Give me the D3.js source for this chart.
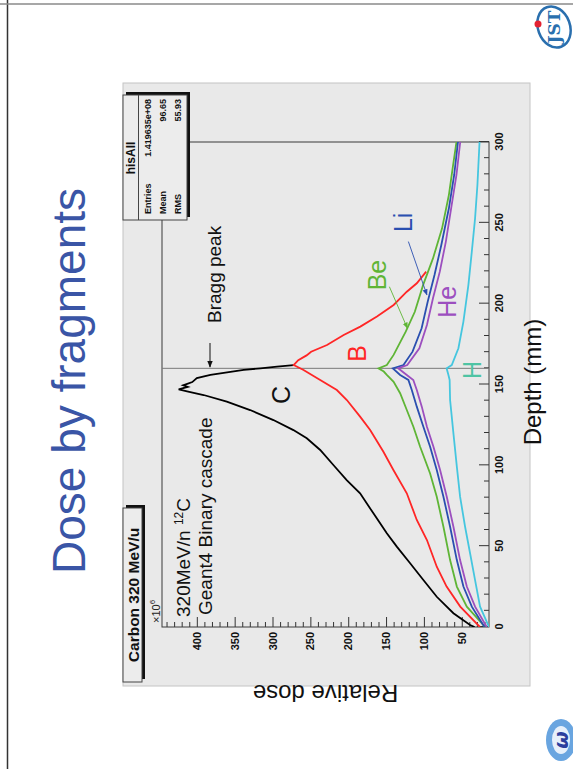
<!DOCTYPE html>
<html>
<head>
<meta charset="utf-8">
<script src="https://cdn.jsdelivr.net/npm/d3@7"></script>
<style>
  body { margin: 0; background: #fff; }
  svg { display: block; }
</style>
</head>
<body>
<script>
// ---- data ----------------------------------------------------------
const depthTicks = [0, 50, 100, 150, 200, 250, 300];
const doseTicks = [50, 100, 150, 200, 250, 300, 350, 400];
const fragments = ["C", "B", "Be", "Li", "He", "H"];

const depthC = [0, 1.2, 8.5, 18.7, 29.1, 39.4, 49.7, 58, 70.3, 82.7, 90.9, 100.2, 109.5, 116.7, 121.8, 128, 134.2, 139.4, 143.5, 145.5, 147, 148.5, 149.5, 151.5, 154, 156, 157.5, 159, 160, 161, 162];
const doseC  = [33, 39, 61, 83, 100.7, 118.2, 135.8, 149, 166.7, 184.3, 202, 219.6, 237, 254.7, 272.4, 298.8, 329.6, 360.4, 391, 410, 424, 412, 418, 406, 400, 382, 360, 338, 316, 294, 272];

const depthB = [0, 12.6, 25, 37.3, 53.8, 66.2, 82.7, 97.1, 108.4, 121.9, 130.1, 140.4, 146.6, 152.8, 159, 162, 165, 168, 170.3, 174.4, 180.6, 185.8, 192, 199.2, 207.4, 212.6, 219.8];
const doseB  = [26, 52, 70, 83, 96, 109.4, 122.6, 140.3, 153.5, 171, 184.3, 201.8, 215, 237, 259, 272, 266, 255, 249, 228, 206, 184, 162, 140, 122.6, 109.4, 97];

const depthBe = [0, 12.6, 25, 41.4, 62, 80.6, 95, 111.5, 123.9, 134.2, 144.6, 151.7, 155.9, 158, 160, 162, 168.3, 182.7, 195, 211.6, 228, 246.6, 267.2, 283.8, 300];
const doseBe  = [19, 43.3, 56.5, 65.4, 74.2, 83, 91.8, 105, 113.9, 122.6, 131.4, 140, 149, 153, 160, 149, 140, 124, 112, 101, 88, 76, 67, 62, 57];

const depthLi = [0, 12.6, 25, 41.4, 62, 80.6, 97.1, 111.5, 123.9, 136.3, 146.6, 152.8, 155.9, 160, 162, 170.3, 184.8, 201.2, 217.7, 236.3, 259, 279.6, 300];
const doseLi  = [20, 36.7, 47.8, 56.5, 65.4, 74.2, 83, 91.8, 100.7, 109.4, 116, 120.5, 131.4, 141, 127, 115, 103, 95, 86, 77, 67, 60, 55];

const depthHe = [0, 12.6, 25, 41.4, 62, 80.6, 97.1, 111.5, 123.9, 136.3, 146.6, 152.8, 155.9, 160, 162, 172.4, 186.8, 203.3, 219.8, 238.4, 259, 279.6, 300];
const doseHe  = [17, 32.4, 43.3, 52.2, 61, 69.8, 78.6, 87.4, 96, 102.8, 109.4, 114, 122.6, 134, 122, 106, 96, 88, 79, 71, 64, 57, 52];

const depthH = [0, 12.6, 29, 45.6, 62, 80.6, 99.2, 119.8, 140.4, 152.8, 155.9, 160, 162, 172.4, 188.9, 211.6, 232.2, 252.8, 273.4, 300];
const doseH  = [14, 25.8, 32.4, 39, 45.6, 52.2, 56.5, 61, 65.4, 66, 67.6, 70, 63.2, 54.4, 47.8, 41.2, 36.7, 32.4, 29.3, 26.5];

const statsLabels = ["Entries", "Mean", "RMS"];
const statsValues = ["1.419635e+08", "96.65", "55.93"];

// ---- page ----------------------------------------------------------
const FONT = "'Liberation Sans', Arial, Helvetica, sans-serif";
const SLIDE_W = 769, SLIDE_H = 573;   // landscape slide, shown turned a quarter turn

const svg = d3.select("body").append("svg")
  .attr("width", 573).attr("height", 769)
  .style("font-family", FONT);
svg.append("rect").attr("width", 573).attr("height", 769).attr("fill", "#fff");

const slide = svg.append("g").attr("transform", `translate(0,${SLIDE_W}) rotate(-90)`);

// slide rules
slide.append("line").attr("x1", 0).attr("x2", SLIDE_W).attr("y1", 7.5).attr("y2", 7.5)
  .attr("stroke", "#333").attr("stroke-width", 1.5);
slide.append("line").attr("x1", 765).attr("x2", 765).attr("y1", 0).attr("y2", SLIDE_H)
  .attr("stroke", "#8a8a8a").attr("stroke-width", 1.5);

// title
slide.append("text").attr("x", 388).attr("y", 85)
  .attr("text-anchor", "middle").attr("font-size", 46).attr("fill", "#3a55a6")
  .text("Dose by fragments");

// canvas panel
slide.append("rect").attr("x", 83).attr("y", 123).attr("width", 603).attr("height", 407)
  .attr("fill", "#e9e9e9").attr("stroke", "#c4c4c4").attr("stroke-width", 1);

// scales
const x = d3.scaleLinear().domain([0, 300]).range([142, 627]);
const y = d3.scaleLinear().domain([14, 446]).range([489, 162]);

// minor ticks
slide.append("g").attr("transform", "translate(0,489)")
  .call(d3.axisBottom(x).tickValues(d3.range(10, 300, 10).filter(v => v % 50)).tickSize(-5).tickFormat(""))
  .call(g => g.select(".domain").remove())
  .call(g => g.selectAll("line").attr("stroke", "#333"));
slide.append("g").attr("transform", "translate(142,0)")
  .call(d3.axisLeft(y).tickValues(d3.range(20, 446, 10).filter(v => v % 50)).tickSize(-5).tickFormat(""))
  .call(g => g.select(".domain").remove())
  .call(g => g.selectAll("line").attr("stroke", "#333"));

// major ticks + labels
slide.append("g").attr("transform", "translate(0,489)")
  .call(d3.axisBottom(x).tickValues(depthTicks).tickSizeInner(-10).tickSizeOuter(0).tickPadding(6).tickFormat(d3.format("d")))
  .call(g => g.select(".domain").remove())
  .call(g => g.selectAll("line").attr("stroke", "#333"))
  .call(g => g.selectAll("text").attr("font-family", FONT).attr("font-size", 11).attr("font-weight", "bold").attr("fill", "#111"));
slide.append("g").attr("transform", "translate(142,0)")
  .call(d3.axisLeft(y).tickValues(doseTicks).tickSizeInner(-10).tickSizeOuter(0).tickPadding(5).tickFormat(d3.format("d")))
  .call(g => g.select(".domain").remove())
  .call(g => g.selectAll("line").attr("stroke", "#333"))
  .call(g => g.selectAll("text").attr("font-family", FONT).attr("font-size", 11).attr("font-weight", "bold").attr("fill", "#111"));

// frame
slide.append("rect").attr("x", 142).attr("y", 162).attr("width", 485).attr("height", 327)
  .attr("fill", "none").attr("stroke", "#3a3a3a").attr("stroke-width", 1);

// exponent
const expo = slide.append("text").attr("x", 146).attr("y", 160).attr("font-size", 11).attr("fill", "#222");
expo.append("tspan").text("×10");
expo.append("tspan").attr("dy", -5).attr("font-size", 8).text("6");

// Bragg line
slide.append("line").attr("x1", x(160)).attr("x2", x(160)).attr("y1", 162).attr("y2", 489)
  .attr("stroke", "#7a7a7a").attr("stroke-width", 1);

// curves
slide.append("clipPath").attr("id", "plotclip").append("rect")
  .attr("x", 142).attr("y", 162).attr("width", 485).attr("height", 327);

const seriesDepth = [depthC, depthB, depthBe, depthLi, depthHe, depthH];
const seriesDose = [doseC, doseB, doseBe, doseLi, doseHe, doseH];
const lineColors = ["#000000", "#ff2626", "#5fb536", "#2a4fb0", "#9c4fbf", "#45c6df"];

const line = d3.line().x(d => x(d[0])).y(d => y(d[1]));
const curves = slide.append("g").attr("clip-path", "url(#plotclip)");
fragments.forEach((f, i) => {
  const pts = seriesDepth[i].map((d, j) => [d, seriesDose[i][j]]);
  curves.append("path").datum(pts).attr("d", line)
    .attr("fill", "none").attr("stroke", lineColors[i]).attr("stroke-width", 1.8)
    .attr("stroke-linejoin", "miter");
});

// fragment labels
const labelColors = ["#111111", "#ff2626", "#5fb536", "#2a4fb0", "#9c4fbf", "#4fc4a4"];
const labelAt = { C: [143.5, 288.6], B: [169.3, 187.8], Be: [217.7, 162.2], Li: [250.3, 127.9], He: [201.2, 69.8], H: [159, 36] };
fragments.forEach((f, i) => {
  slide.append("text").attr("x", x(labelAt[f][0])).attr("y", y(labelAt[f][1]))
    .attr("text-anchor", "middle").attr("dominant-baseline", "central")
    .attr("font-size", 25).attr("fill", labelColors[i]).text(f);
});

// pointer arrows
const defs = slide.append("defs");
function marker(id, color) {
  defs.append("marker").attr("id", id).attr("viewBox", "0 0 10 10").attr("refX", 9).attr("refY", 5)
    .attr("markerWidth", 7).attr("markerHeight", 7).attr("orient", "auto")
    .append("path").attr("d", "M0,1 L10,5 L0,9 z").attr("fill", color);
}
marker("arrBe", "#5fb536");
marker("arrLi", "#2a4fb0");
marker("arrBragg", "#111");
slide.append("line").attr("x1", x(210.5)).attr("y1", y(145.6)).attr("x2", x(184.8)).attr("y2", y(121.8))
  .attr("stroke", "#5fb536").attr("stroke-width", 0.9).attr("marker-end", "url(#arrBe)");
slide.append("line").attr("x1", x(238.4)).attr("y1", y(120.5)).attr("x2", x(205.4)).attr("y2", y(96))
  .attr("stroke", "#2a4fb0").attr("stroke-width", 0.9).attr("marker-end", "url(#arrLi)");

// annotations
slide.append("text").attr("x", 446).attr("y", 221).attr("font-size", 19).attr("fill", "#111").text("Bragg peak");
slide.append("line").attr("x1", 426).attr("y1", 210).attr("x2", 402).attr("y2", 210)
  .attr("stroke", "#111").attr("stroke-width", 1).attr("marker-end", "url(#arrBragg)");

const beam = slide.append("text").attr("x", 152).attr("y", 190).attr("font-size", 19).attr("fill", "#111");
beam.append("tspan").text("320MeV/n ");
beam.append("tspan").attr("dy", -7).attr("font-size", 12).text("12");
beam.append("tspan").attr("dy", 7).text("C");
slide.append("text").attr("x", 154).attr("y", 212).attr("font-size", 19).attr("fill", "#111")
  .text("Geant4 Binary cascade");

// axis titles
slide.append("text").attr("transform", `translate(76,${y(230)}) rotate(-90)`)
  .attr("text-anchor", "middle").attr("dominant-baseline", "central")
  .attr("font-size", 24).attr("fill", "#111").text("Relative dose");
slide.append("text").attr("x", 387).attr("y", 541)
  .attr("text-anchor", "middle").attr("font-size", 24).attr("fill", "#111").text("Depth (mm)");

// title box
function shadowBox(x0, y0, w, h) {
  slide.append("rect").attr("x", x0 + 3).attr("y", y0 + 3).attr("width", w).attr("height", h).attr("fill", "#111");
  slide.append("rect").attr("x", x0).attr("y", y0).attr("width", w).attr("height", h)
    .attr("fill", "#ececec").attr("stroke", "#444").attr("stroke-width", 1);
}
shadowBox(87, 123, 174, 19);
slide.append("text").attr("x", 174).attr("y", 133).attr("text-anchor", "middle").attr("dominant-baseline", "central")
  .attr("font-size", 15.5).attr("font-weight", "bold").attr("fill", "#111").text("Carbon 320 MeV/u");

// stats box
shadowBox(549, 123, 125, 64);
slide.append("line").attr("x1", 549).attr("x2", 674).attr("y1", 138.5).attr("y2", 138.5).attr("stroke", "#444");
slide.append("text").attr("x", 611).attr("y", 131).attr("text-anchor", "middle").attr("dominant-baseline", "central")
  .attr("font-size", 12).attr("font-weight", "bold").attr("fill", "#111").text("hisAll");
statsLabels.forEach((s, i) => {
  const yy = 148 + i * 15;
  slide.append("text").attr("x", 555).attr("y", yy).attr("dominant-baseline", "central")
    .attr("font-size", 9).attr("font-weight", "bold").attr("fill", "#111").text(s);
  slide.append("text").attr("x", 670).attr("y", yy).attr("text-anchor", "end").attr("dominant-baseline", "central")
    .attr("font-size", 9).attr("font-weight", "bold").attr("fill", "#111").text(statsValues[i]);
});

// logos
const jst = slide.append("g").attr("transform", "translate(742,554) rotate(-20)");
jst.append("ellipse").attr("rx", 21).attr("ry", 16).attr("fill", "none").attr("stroke", "#2a6fae").attr("stroke-width", 2.5);
jst.append("text").attr("text-anchor", "middle").attr("dominant-baseline", "central").attr("transform", "rotate(20)")
  .attr("font-size", 17).attr("font-weight", "bold").attr("font-family", "'DejaVu Serif', serif")
  .attr("fill", "#2a6fae").text("JST");
slide.append("circle").attr("cx", 745).attr("cy", 538).attr("r", 3.5).attr("fill", "#e32232");

const wlogo = slide.append("g").attr("transform", "translate(29,561)");
wlogo.append("ellipse").attr("rx", 21).attr("ry", 15).attr("fill", "#69a5e0");
wlogo.append("ellipse").attr("rx", 14).attr("ry", 9).attr("fill", "#e6f0fb");
wlogo.append("text").attr("text-anchor", "middle").attr("dominant-baseline", "central")
  .attr("font-size", 20).attr("font-weight", "bold").attr("font-style", "italic")
  .attr("font-family", "'DejaVu Sans', sans-serif").attr("fill", "#2c3f9e").text("ω");
</script>
</body>
</html>
